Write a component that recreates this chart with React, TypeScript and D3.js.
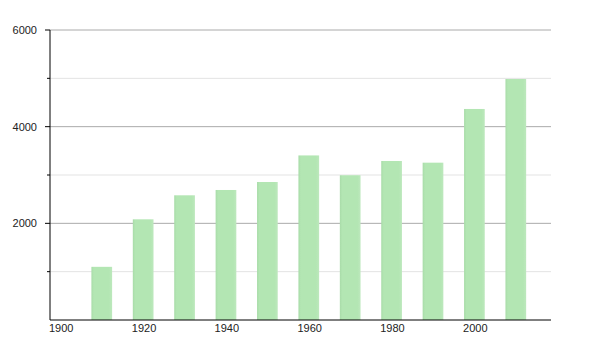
import React from "react";
import * as d3 from "d3";

const years = [1910, 1920, 1930, 1940, 1950, 1960, 1970, 1980, 1990, 2000, 2010];
const values = [1100, 2083, 2580, 2690, 2855, 3405, 2995, 3290, 3255, 4366, 4986];
const yMajorTicks = [2000, 4000, 6000];
const yMinorTicks = [1000, 3000, 5000];
const xTicks = [1900, 1920, 1940, 1960, 1980, 2000];

export default function App() {
  const W = 600, H = 350;
  const left = 50, right = 551, top = 30, bottom = 320;
  const x = d3.scaleLinear().domain([1900, 2021]).range([left, right]);
  const y = d3.scaleLinear().domain([0, 6000]).range([bottom, top]);
  const barW = x(1905) - x(1900);
  const font = "'Liberation Sans', Arial, sans-serif";
  return (
    <svg width={W} height={H} style={{ position: "absolute", left: 0, top: 0 }}>
      <defs>
        <linearGradient id="barg" x1="0" x2="1" y1="0" y2="0">
          <stop offset="0" stopColor="#a9dca9" />
          <stop offset="0.12" stopColor="#b3e6b3" />
          <stop offset="0.85" stopColor="#b3e6b3" />
          <stop offset="1" stopColor="#bde8bd" />
        </linearGradient>
        <filter id="soft" x="-20%" y="0" width="140%" height="100%">
          <feGaussianBlur stdDeviation="0.6 0" />
        </filter>
      </defs>
      <rect width={W} height={H} fill="#fff" />
      {yMinorTicks.map((t) => (
        <g key={"m" + t}>
          <line x1={left} x2={right} y1={y(t)} y2={y(t)} stroke="#e3e3e3" />
          <line x1={left - 3} x2={left} y1={y(t)} y2={y(t)} stroke="#000" />
        </g>
      ))}
      {yMajorTicks.map((t) => (
        <g key={"M" + t}>
          <line x1={left} x2={right} y1={y(t)} y2={y(t)} stroke="#aaa" />
          <line x1={left - 5} x2={left} y1={y(t)} y2={y(t)} stroke="#000" />
          <text x={left - 13} y={y(t) + 4} textAnchor="end" fontFamily={font} fontSize={11} fill="#222">{t}</text>
        </g>
      ))}
      {years.map((yr, i) => (
        <rect key={yr} x={x(yr)} y={y(values[i])} width={barW} height={bottom - y(values[i])} fill="url(#barg)" filter="url(#soft)" />
      ))}
      <line x1={left} x2={left} y1={top} y2={bottom} stroke="#000" />
      <line x1={left} x2={right} y1={bottom} y2={bottom} stroke="#000" />
      {xTicks.map((t) => (
        <text key={t} x={x(t) - 1} y={bottom + 12} fontFamily={font} fontSize={11} fill="#222">{t}</text>
      ))}
    </svg>
  );
}
